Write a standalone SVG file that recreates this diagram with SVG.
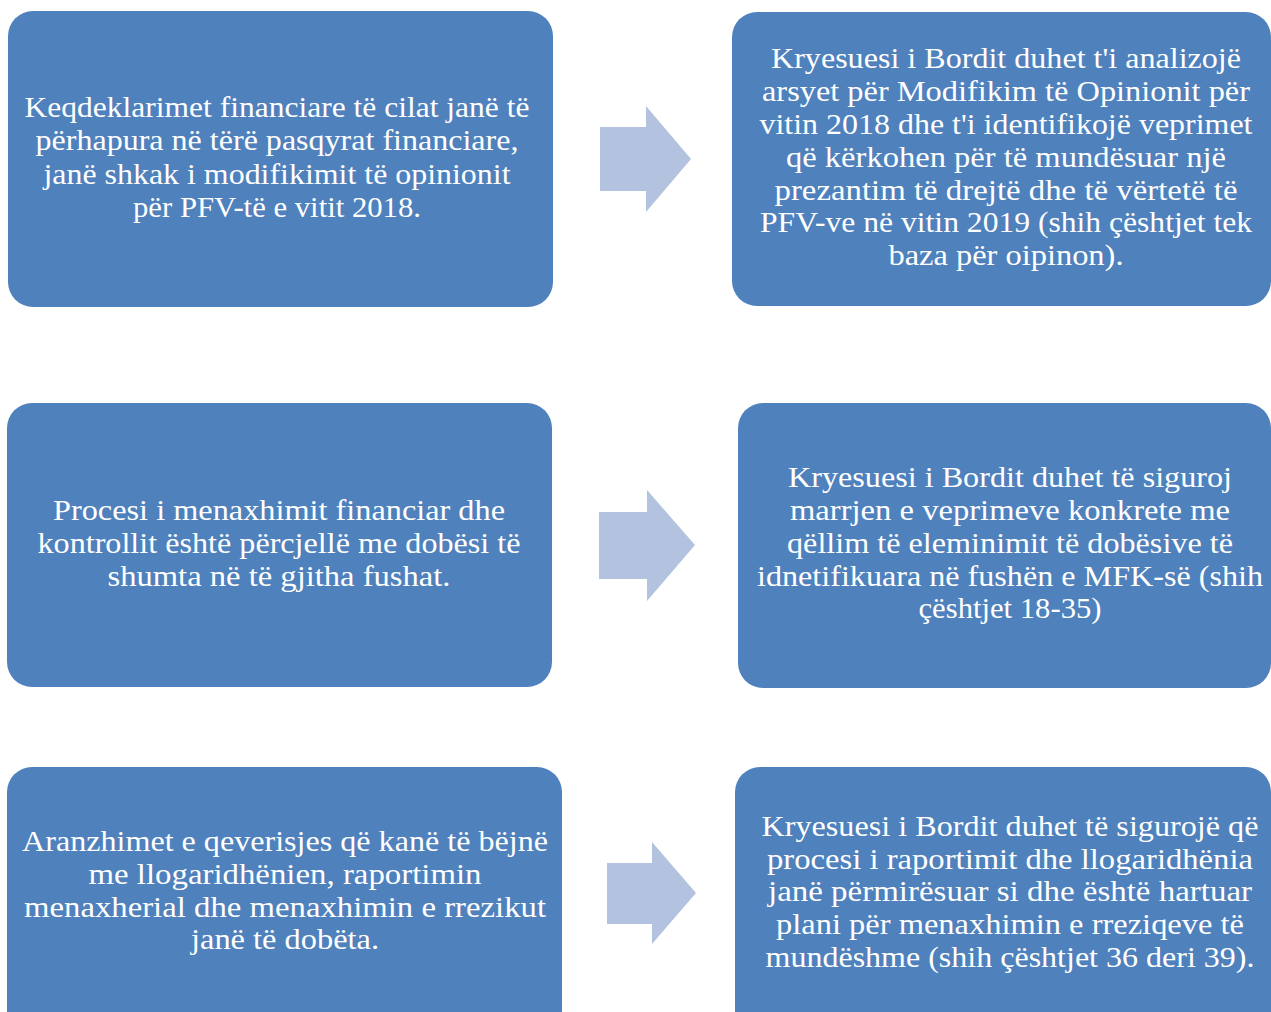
<svg xmlns="http://www.w3.org/2000/svg" width="1271" height="1012" viewBox="0 0 1271 1012">
<style>
.box{fill:#4F81BD;}
.arr{fill:#B3C3DF;}
text{font-family:"Liberation Serif","Times New Roman",serif;font-size:29px;fill:#FFFFFF;text-anchor:middle;}
</style>
<rect width="1271" height="1012" fill="#FFFFFF"/>
<g id="connectors">
<polygon class="arr" points="600,127 646,127 646,106 691,159 646,212 646,191 600,191"/>
<polygon class="arr" points="599,512 647,512 647,490 695,545 647,601 647,579 599,579"/>
<polygon class="arr" points="607,863 652,863 652,842 696,893 652,944 652,924 607,924"/>
</g>
<g id="node1">
<rect class="box" x="8" y="11" width="545" height="296" rx="25" ry="25"/>
<text x="277" y="117" textLength="505" lengthAdjust="spacingAndGlyphs">Keqdeklarimet financiare të cilat janë të</text>
<text x="277" y="150" textLength="483" lengthAdjust="spacingAndGlyphs">përhapura në tërë pasqyrat financiare,</text>
<text x="277" y="184" textLength="467" lengthAdjust="spacingAndGlyphs">janë shkak i modifikimit të opinionit</text>
<text x="277" y="217" textLength="288" lengthAdjust="spacingAndGlyphs">për PFV-të e vitit 2018.</text>
</g>
<g id="node2">
<rect class="box" x="732" y="12" width="539" height="294" rx="25" ry="25"/>
<text x="1006" y="68" textLength="470" lengthAdjust="spacingAndGlyphs">Kryesuesi i Bordit duhet t'i analizojë</text>
<text x="1006" y="101" textLength="488" lengthAdjust="spacingAndGlyphs">arsyet për Modifikim të Opinionit për</text>
<text x="1006" y="134" textLength="493" lengthAdjust="spacingAndGlyphs">vitin 2018 dhe t'i identifikojë veprimet</text>
<text x="1006" y="167" textLength="440" lengthAdjust="spacingAndGlyphs">që kërkohen për të mundësuar një</text>
<text x="1006" y="200" textLength="463" lengthAdjust="spacingAndGlyphs">prezantim të drejtë dhe të vërtetë të</text>
<text x="1006" y="232" textLength="492" lengthAdjust="spacingAndGlyphs">PFV-ve në vitin 2019 (shih çështjet tek</text>
<text x="1006" y="265" textLength="235" lengthAdjust="spacingAndGlyphs">baza për oipinon).</text>
</g>
<g id="node3">
<rect class="box" x="7" y="403" width="545" height="284" rx="25" ry="25"/>
<text x="279" y="520" textLength="452" lengthAdjust="spacingAndGlyphs">Procesi i menaxhimit financiar dhe</text>
<text x="279" y="553" textLength="483" lengthAdjust="spacingAndGlyphs">kontrollit është përcjellë me dobësi të</text>
<text x="279" y="586" textLength="343" lengthAdjust="spacingAndGlyphs">shumta në të gjitha fushat.</text>
</g>
<g id="node4">
<rect class="box" x="738" y="403" width="533" height="285" rx="25" ry="25"/>
<text x="1010" y="487" textLength="444" lengthAdjust="spacingAndGlyphs">Kryesuesi i Bordit duhet të siguroj</text>
<text x="1010" y="520" textLength="440" lengthAdjust="spacingAndGlyphs">marrjen e veprimeve konkrete me</text>
<text x="1010" y="553" textLength="446" lengthAdjust="spacingAndGlyphs">qëllim të eleminimit të dobësive të</text>
<text x="1010" y="586" textLength="506" lengthAdjust="spacingAndGlyphs">idnetifikuara në fushën e MFK-së (shih</text>
<text x="1010" y="618" textLength="183" lengthAdjust="spacingAndGlyphs">çështjet 18-35)</text>
</g>
<g id="node5">
<rect class="box" x="7" y="767" width="555" height="290" rx="25" ry="25"/>
<text x="285" y="851" textLength="526" lengthAdjust="spacingAndGlyphs">Aranzhimet e qeverisjes që kanë të bëjnë</text>
<text x="285" y="884" textLength="393" lengthAdjust="spacingAndGlyphs">me llogaridhënien, raportimin</text>
<text x="285" y="917" textLength="522" lengthAdjust="spacingAndGlyphs">menaxherial dhe menaxhimin e rrezikut</text>
<text x="285" y="949" textLength="188" lengthAdjust="spacingAndGlyphs">janë të dobëta.</text>
</g>
<g id="node6">
<rect class="box" x="735" y="767" width="536" height="290" rx="25" ry="25"/>
<text x="1010" y="836" textLength="497" lengthAdjust="spacingAndGlyphs">Kryesuesi i Bordit duhet të sigurojë që</text>
<text x="1010" y="869" textLength="486" lengthAdjust="spacingAndGlyphs">procesi i raportimit dhe llogaridhënia</text>
<text x="1010" y="901" textLength="484" lengthAdjust="spacingAndGlyphs">janë përmirësuar si dhe është hartuar</text>
<text x="1010" y="934" textLength="468" lengthAdjust="spacingAndGlyphs">plani për menaxhimin e rreziqeve të</text>
<text x="1010" y="967" textLength="489" lengthAdjust="spacingAndGlyphs">mundëshme (shih çështjet 36 deri 39).</text>
</g>
</svg>
